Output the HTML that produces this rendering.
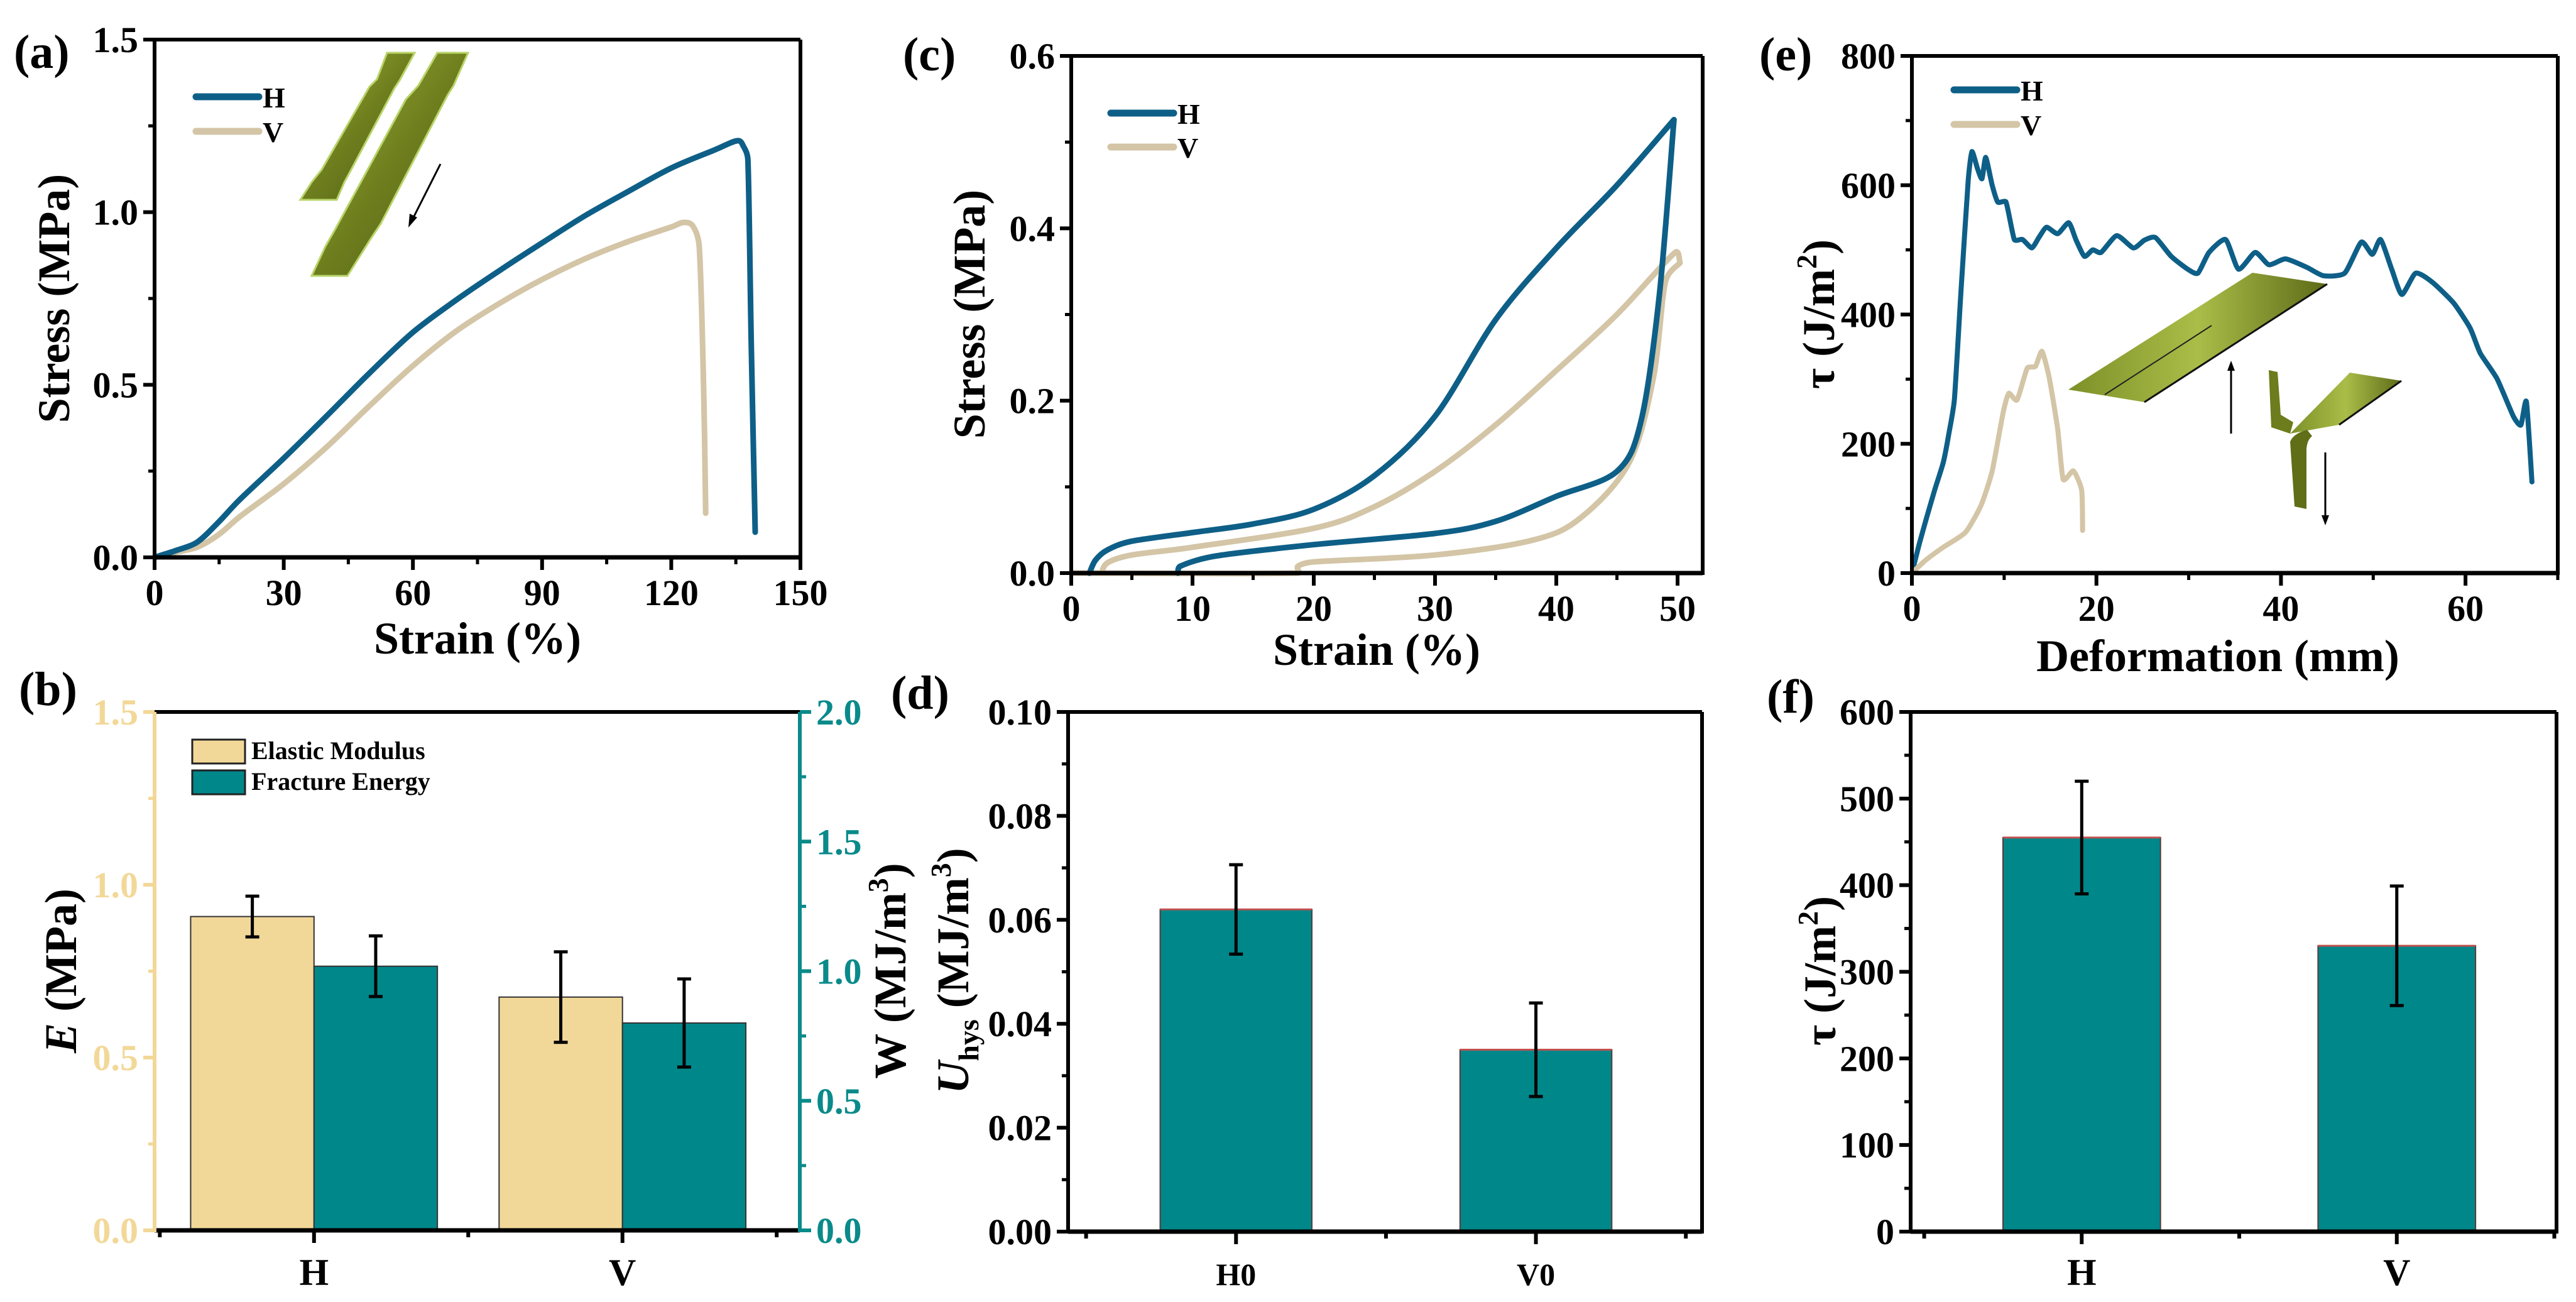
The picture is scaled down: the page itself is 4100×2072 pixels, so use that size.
<!DOCTYPE html>
<html><head><meta charset="utf-8">
<style>
html,body{margin:0;padding:0;background:#fff;}
svg{display:block;}
text{font-family:"Liberation Serif",serif;font-weight:bold;}
</style></head>
<body>
<svg id="fig" xmlns="http://www.w3.org/2000/svg" width="4100" height="2072" viewBox="0 0 4100 2072">
<defs>
<linearGradient id="grn" x1="0" y1="0" x2="1" y2="1">
<stop offset="0" stop-color="#9db23a"/><stop offset="0.5" stop-color="#6f7f1e"/><stop offset="1" stop-color="#4d5a12"/>
</linearGradient>
<linearGradient id="grn2" x1="0" y1="0" x2="1" y2="0">
<stop offset="0" stop-color="#7d9028"/><stop offset="0.5" stop-color="#aabd48"/><stop offset="1" stop-color="#5d6b18"/>
</linearGradient>
</defs>
</svg>
<script>
// ---------- DATA ----------
const aStrainH=[0,2,5,10,15,20,30,40,50,60,70,80,90,100,110,120,130,135.3,136.8,137.8,138.6,139.5];
const aStressH=[0,0.008,0.02,0.045,0.104,0.17,0.287,0.41,0.535,0.652,0.745,0.83,0.911,0.99,1.06,1.128,1.18,1.207,1.19,1.15,0.6,0.073];
const aStrainV=[0,2,5,10,15,20,30,40,50,60,70,80,90,100,110,120,122.7,125,126.5,127.5,128];
const aStressV=[0,0.006,0.015,0.03,0.067,0.12,0.213,0.32,0.44,0.555,0.655,0.735,0.805,0.865,0.915,0.957,0.97,0.96,0.9,0.5,0.128];

const cStrainHLoad=[1.5,2,3,5,10,15,20,25,30,35,40,45,49.7];
const cStressHLoad=[0,0.015,0.027,0.037,0.047,0.057,0.074,0.113,0.182,0.294,0.377,0.45,0.526];
const cStrainHUnload=[49.7,48.5,47,45,40,35,30,20,12,9,8.8];
const cStressHUnload=[0.526,0.323,0.177,0.118,0.089,0.06,0.046,0.033,0.02,0.008,0];
const cStrainVLoad=[2.5,3,5,10,20,25,30,35,40,45,49.8,50.2];
const cStressVLoad=[0,0.012,0.021,0.03,0.052,0.077,0.118,0.172,0.235,0.30,0.372,0.36];
const cStrainVUnload=[50.2,49,48,46,42,38,30,20,18.7,18.7,0];
const cStressVUnload=[0.36,0.338,0.226,0.128,0.064,0.038,0.021,0.013,0.008,0,0];

const eDefH=[0,0.8,1.6,2.5,3.4,4,4.6,5.3,6.1,6.5,7.1,7.6,8.0,8.7,9.3,10.2,11.1,12.0,13.0,13.8,14.6,15.8,17.0,17.8,18.7,19.6,20.5,22.2,24,25.2,26.4,28.1,29.9,31,32.2,34,35.4,37.2,38.7,40.5,42.8,44.6,46.9,48.7,49.9,50.8,52,53.1,54.6,56.4,58.7,60.5,61.6,63.4,65.2,66,66.6,67.2];
const eTauH=[0,45,86,130,171,215,268,431,607,652,626,610,643,600,574,574,516,516,503,520,535,525,542,515,490,500,496,522,503,515,519,490,470,464,496,516,470,496,477,486,473,460,464,512,493,516,470,431,464,450,418,379,340,301,242,229,265,141];
const eDefV=[0,1.5,3.4,5.8,7.5,8.7,9.9,10.5,11.4,12.5,13.4,14.1,14.9,15.8,16.4,17.5,18.4,18.5];
const eTauV=[0,20,40,63,105,158,249,278,268,317,320,343,301,223,145,158,128,66];

const bCategories=["H","V"];
const bElastic=[0.908,0.675];
const bElasticErr=[0.059,0.131];
const bFracture=[1.019,0.80];
const bFractureErr=[0.117,0.17];

const dCategories=["H0","V0"];
const dUhys=[0.062,0.035];
const dUhysErr=[0.0086,0.009];

const fCategories=["H","V"];
const fTau=[455,330];
const fTauErr=[65,69];

const aXTicks=[0,30,60,90,120,150], aYTicks=[0,0.5,1.0,1.5];
const cXTicks=[0,10,20,30,40,50], cYTicks=[0,0.2,0.4,0.6];
const eXTicks=[0,20,40,60], eYTicks=[0,200,400,600,800];
const bYTicksL=[0,0.5,1.0,1.5], bYTicksR=[0,0.5,1.0,1.5,2.0];
const dYTicks=[0,0.02,0.04,0.06,0.08,0.10];
const fYTicks=[0,100,200,300,400,500,600];

// ---------- HELPERS ----------
const NS="http://www.w3.org/2000/svg";
const svg=document.getElementById('fig');
function mk(tag,attrs,parent){const e=document.createElementNS(NS,tag);for(const k in attrs)e.setAttribute(k,attrs[k]);(parent||svg).appendChild(e);return e;}
function lin(d0,d1,r0,r1){return v=>r0+(v-d0)/(d1-d0)*(r1-r0);}
const BLUE="#0e5f87", TAN="#d3c5a6", TEAL="#00878a", YEL="#f2d898", TEALAX="#0a8a8a";

function frame(g,P,topColor,leftColor,rightColor){
  let e;
  e=mk('line',{x1:P.x0,y1:P.y1,x2:P.x1,y2:P.y1,stroke:'#000','stroke-width':7},g);
  
  
  e=mk('line',{x1:P.x0,y1:P.y0,x2:P.x1,y2:P.y0,stroke:topColor||'#000','stroke-width':6},g);
  
  
  e=mk('line',{x1:P.x0,y1:P.y0,x2:P.x0,y2:P.y1+3,stroke:leftColor||'#000','stroke-width':6},g);
  
  
  e=mk('line',{x1:P.x1,y1:P.y0,x2:P.x1,y2:P.y1+3,stroke:rightColor||'#000','stroke-width':6},g);
  
  
}
function yTicks(g,P,sy,ticks,fmt,color,side){
  const c=color||'#000';
  const xs= side==='right'?P.x1:P.x0, dir= side==='right'?1:-1;
  for(let i=0;i<ticks.length;i++){
    const v=ticks[i], y=sy(v);
    let t=mk('line',{x1:xs,y1:y,x2:xs+dir*18,y2:y,stroke:c,'stroke-width':6},g);
    
    
    if(i<ticks.length-1){
      const ym=sy((v+ticks[i+1])/2);
      t=mk('line',{x1:xs,y1:ym,x2:xs+dir*10,y2:ym,stroke:c,'stroke-width':5},g);
      
      
    }
    const lab=mk('text',{x:xs+dir*26,y:y+20,'font-size':58,'text-anchor':side==='right'?'start':'end',fill:c},g);
    lab.textContent=fmt(v);
    
    
  }
}
function xTicks(g,P,sx,ticks,fmt,xmaxMinor){
  for(let i=0;i<ticks.length;i++){
    const v=ticks[i], x=sx(v);
    let t=mk('line',{x1:x,y1:P.y1,x2:x,y2:P.y1+20,stroke:'#000','stroke-width':6},g);
    
    
    const step=(ticks[1]-ticks[0]);
    const m=v+step/2;
    if(m<=xmaxMinor){
      const xm=sx(m);
      t=mk('line',{x1:xm,y1:P.y1,x2:xm,y2:P.y1+11,stroke:'#000','stroke-width':5},g);
      
      
    }
    const lab=mk('text',{x:x,y:P.y1+76,'font-size':58,'text-anchor':'middle'},g);
    lab.textContent=fmt(v);
    
    
  }
}
// smooth catmull-rom path through data points (clamped tangents to avoid overshoot)
function poly(g,xs,ys,sx,sy,color,w,tension){
  const k=(tension===undefined?0.16:tension);
  const p=xs.map((x,i)=>[sx(x),sy(ys[i])]);
  let d='M'+p[0][0].toFixed(1)+','+p[0][1].toFixed(1);
  for(let i=0;i<p.length-1;i++){
    const p0=p[i-1]||p[i], p1=p[i], p2=p[i+1], p3=p[i+2]||p[i+1];
    const seg=Math.hypot(p2[0]-p1[0],p2[1]-p1[1]);
    function tan(a,b){const dx=b[0]-a[0],dy=b[1]-a[1];const L=Math.hypot(dx,dy)||1;const m=Math.min(L,seg*3);return [dx/L*m,dy/L*m];}
    const t1=tan(p0,p2), t2=tan(p1,p3);
    const c1=[p1[0]+t1[0]*k,p1[1]+t1[1]*k], c2=[p2[0]-t2[0]*k,p2[1]-t2[1]*k];
    d+=' C'+c1[0].toFixed(1)+','+c1[1].toFixed(1)+' '+c2[0].toFixed(1)+','+c2[1].toFixed(1)+' '+p2[0].toFixed(1)+','+p2[1].toFixed(1);
  }
  return mk('path',{d:d,fill:'none',stroke:color,'stroke-width':w||9,'stroke-linejoin':'round','stroke-linecap':'round'},g);
}
function label(txt,x,y,size,parent){const t=mk('text',{x:x,y:y,'font-size':size},parent);t.textContent=txt;return t;}
function legendLine(g,x,y,color,txt){
  let l=mk('line',{x1:x,y1:y,x2:x+100,y2:y,stroke:color,'stroke-width':11,'stroke-linecap':'round'},g);
  
  
  let t=mk('text',{x:x+106,y:y+17,'font-size':46},g);
  t.textContent=txt;
  
  
}
function yTitle(g,cx,cy,parts,color){
  const t=mk('text',{x:0,y:0,'font-size':72,'text-anchor':'middle',transform:`translate(${cx},${cy}) rotate(-90)`,fill:color||'#000'},g);
  for(const p of parts){
    const s=mk('tspan',{},t);
    if(p.it)s.setAttribute('font-style','italic');
    if(p.sup){s.setAttribute('font-size',46);s.setAttribute('dy',-28);}
    if(p.sub){s.setAttribute('font-size',46);s.setAttribute('dy',16);}
    if(p.back){s.setAttribute('dy',p.back);}
    s.textContent=p.t;
  }
  return t;
}

// ---------- PANEL A ----------
(function(){
  const g=mk('g',{});  
  const P={x0:246,x1:1274,y0:63,y1:887};
  const sx=lin(0,150,P.x0,P.x1), sy=lin(0,1.5,P.y1,P.y0);
  const ins=mk('g',{},g);  
  let p=mk('polygon',{points:'616,84 660,84 636,128 628,140 560,268 548,290 536,318 478,318 496,290 512,270 588,138 600,126',fill:'url(#grn)',stroke:'#b9d46a','stroke-width':3},ins);
   
  p=mk('polygon',{points:'696,84 745,84 722,136 712,152 606,356 590,380 553,439 496,439 518,392 534,364 646,158 666,136',fill:'url(#grn)',stroke:'#b9d46a','stroke-width':3},ins);
   
  let a=mk('line',{x1:701,y1:261,x2:653,y2:356,stroke:'#000','stroke-width':3},ins);  
  a=mk('polygon',{points:'650,362 652,340 664,346',fill:'#000'},ins);  
  let l=poly(g,aStrainV,aStressV,sx,sy,TAN);  
  l=poly(g,aStrainH,aStressH,sx,sy,BLUE);  
  frame(g,P);
  yTicks(g,P,sy,aYTicks,v=>v.toFixed(1));
  xTicks(g,P,sx,aXTicks,v=>String(v),149);
  legendLine(g,312,154,BLUE,'H'); legendLine(g,312,209,TAN,'V');
  let t=mk('text',{x:760,y:1040,'font-size':72,'text-anchor':'middle'},g); t.textContent='Strain (%)';  
  t=yTitle(g,110,475,[{t:'Stress (MPa)'}]);  
  t=label('(a)',22,108,76,g);  
})();

// ---------- PANEL C ----------
(function(){
  const g=mk('g',{});  
  const P={x0:1705,x1:2710,y0:89,y1:912};
  const sx=lin(0,52.07,P.x0,P.x1), sy=lin(0,0.6,P.y1,P.y0);
  let l=poly(g,cStrainVLoad,cStressVLoad,sx,sy,TAN);  
  l=poly(g,cStrainVUnload,cStressVUnload,sx,sy,TAN);  
  l=poly(g,cStrainHLoad,cStressHLoad,sx,sy,BLUE);  
  l=poly(g,cStrainHUnload,cStressHUnload,sx,sy,BLUE);  
  frame(g,P);
  yTicks(g,P,sy,cYTicks,v=>v.toFixed(1));
  xTicks(g,P,sx,cXTicks,v=>String(v),52);
  legendLine(g,1768,180,BLUE,'H'); legendLine(g,1768,234,TAN,'V');
  let t=mk('text',{x:2191,y:1058,'font-size':72,'text-anchor':'middle'},g); t.textContent='Strain (%)';  
  t=yTitle(g,1567,500,[{t:'Stress (MPa)'}]);  
  t=label('(c)',1437,112,76,g);  
})();

// ---------- PANEL E ----------
(function(){
  const g=mk('g',{});  
  const P={x0:3043,x1:4071,y0:89,y1:912};
  const sx=lin(0,70,P.x0,P.x1), sy=lin(0,800,P.y1,P.y0);
  let l=poly(g,eDefH,eTauH,sx,sy,BLUE,8,0.1);  
  l=poly(g,eDefV,eTauV,sx,sy,TAN,8,0.1);  
  const ins=mk('g',{},g);  
  let p=mk('polygon',{points:'3292,620 3585,434 3704,452 3413,640',fill:'url(#grn2)'},ins);  
  p=mk('line',{x1:3413,y1:640,x2:3704,y2:452,stroke:'#111','stroke-width':3},ins);  
  p=mk('line',{x1:3350,y1:628,x2:3520,y2:518,stroke:'#222','stroke-width':2},ins);  
  p=mk('line',{x1:3551,y1:690,x2:3551,y2:584,stroke:'#000','stroke-width':3},ins);  
  p=mk('polygon',{points:'3551,574 3545,590 3557,590',fill:'#000'},ins);  
  p=mk('polygon',{points:'3645,690 3740,593 3822,606 3723,676',fill:'url(#grn2)'},ins);  
  p=mk('line',{x1:3723,y1:676,x2:3822,y2:606,stroke:'#111','stroke-width':3},ins);  
  p=mk('path',{d:'M3611,589 L3625,592 L3630,660 L3650,672 L3645,690 L3615,680 Z',fill:'#6d7c1c'},ins);  
  p=mk('path',{d:'M3645,703 Q3650,690 3672,684 L3680,694 Q3672,700 3671,715 L3671,810 L3652,806 Z',fill:'#5f6e17'},ins);  
  p=mk('line',{x1:3701,y1:720,x2:3701,y2:826,stroke:'#000','stroke-width':3},ins);  
  p=mk('polygon',{points:'3701,836 3695,820 3707,820',fill:'#000'},ins);  
  frame(g,P);
  yTicks(g,P,sy,eYTicks,v=>String(v));
  xTicks(g,P,sx,eXTicks,v=>String(v),70);
  legendLine(g,3110,143,BLUE,'H'); legendLine(g,3110,198,TAN,'V');
  let t=mk('text',{x:3530,y:1068,'font-size':72,'text-anchor':'middle'},g); t.textContent='Deformation (mm)';  
  t=yTitle(g,2919,500,[{t:'τ (J/m'},{t:'2',sup:true},{t:')',back:28}]);  
  t=label('(e)',2800,112,76,g);  
})();

// ---------- BAR HELPERS ----------
function errBar(g,x,yTop,yBot){
  let e=mk('line',{x1:x,y1:yTop,x2:x,y2:yBot,stroke:'#000','stroke-width':5},g);
   
  e=mk('line',{x1:x-11,y1:yTop,x2:x+11,y2:yTop,stroke:'#000','stroke-width':5},g);
   
  e=mk('line',{x1:x-11,y1:yBot,x2:x+11,y2:yBot,stroke:'#000','stroke-width':5},g);
   
}
function catAxis(g,P,sx,cats,fs){
  for(let k=0.5;k<=2.5;k+=0.5){
    const major=Number.isInteger(k);
    const t=mk('line',{x1:sx(k),y1:P.y1,x2:sx(k),y2:P.y1+(major?20:11),stroke:'#000','stroke-width':6},g);
     
  }
  cats.forEach((c,i)=>{
    const t=mk('text',{x:sx(i+1),y:2045,'font-size':fs||60,'text-anchor':'middle'},g);
    t.textContent=c;
     
  });
}

// ---------- PANEL B ----------
(function(){
  const g=mk('g',{});  
  const P={x0:246,x1:1273,y0:1133,y1:1958};
  const sx=lin(0.483,2.575,P.x0,P.x1), syL=lin(0,1.5,P.y1,P.y0), syR=lin(0,2,P.y1,P.y0);
  const bw=0.4;
  bCategories.forEach((c,i)=>{
    const xa=sx(i+1-bw), xb=sx(i+1), xc=sx(i+1+bw);
    let r=mk('rect',{x:xa,y:syL(bElastic[i]),width:xb-xa,height:P.y1-syL(bElastic[i]),fill:YEL,stroke:'#333','stroke-width':2},g);
     
    r=mk('rect',{x:xb,y:syR(bFracture[i]),width:xc-xb,height:P.y1-syR(bFracture[i]),fill:TEAL,stroke:'#333','stroke-width':2},g);
     
    errBar(g,(xa+xb)/2,syL(bElastic[i]+bElasticErr[i]),syL(bElastic[i]-bElasticErr[i]));
    errBar(g,(xb+xc)/2,syR(bFracture[i]+bFractureErr[i]),syR(bFracture[i]-bFractureErr[i]));
  });
  frame(g,P,'#000',YEL,TEALAX);
  yTicks(g,P,syL,bYTicksL,v=>v.toFixed(1),YEL,'left');
  yTicks(g,P,syR,bYTicksR,v=>v.toFixed(1),TEALAX,'right');
  catAxis(g,P,sx,bCategories);
  let r=mk('rect',{x:306,y:1177,width:84,height:38,fill:YEL,stroke:'#222','stroke-width':3},g);  
  r=mk('rect',{x:306,y:1226,width:84,height:38,fill:TEAL,stroke:'#222','stroke-width':3},g);  
  let t=label('Elastic Modulus',400,1208,40,g);  
  t=label('Fracture Energy',400,1257,40,g);  
  t=yTitle(g,121,1545,[{t:'E',it:true},{t:' (MPa)'}]);  
  t=yTitle(g,1441,1545,[{t:'W (MJ/m'},{t:'3',sup:true},{t:')',back:28}]);  
  t=label('(b)',30,1122,76,g);  
})();

// ---------- PANEL D ----------
(function(){
  const g=mk('g',{});  
  const P={x0:1700,x1:2709,y0:1133,y1:1960};
  const sx=lin(0.44,2.554,P.x0,P.x1), sy=lin(0,0.10,P.y1,P.y0);
  const bw=0.253;
  dCategories.forEach((c,i)=>{
    const xa=sx(i+1-bw), xb=sx(i+1+bw);
    let r=mk('rect',{x:xa,y:sy(dUhys[i]),width:xb-xa,height:P.y1-sy(dUhys[i]),fill:TEAL,stroke:'#5a3a3a','stroke-width':2},g);
     
    r=mk('line',{x1:xa,y1:sy(dUhys[i]),x2:xb,y2:sy(dUhys[i]),stroke:'#c0504d','stroke-width':3},g);
     
    errBar(g,sx(i+1),sy(dUhys[i]+dUhysErr[i]),sy(dUhys[i]-dUhysErr[i]));
  });
  frame(g,P);
  yTicks(g,P,sy,dYTicks,v=>v.toFixed(2));
  catAxis(g,P,sx,dCategories,50);
  let t=yTitle(g,1541,1545,[{t:'U',it:true},{t:'hys',sub:true},{t:' (MJ/m',back:-16},{t:'3',sup:true},{t:')',back:28}]);  
  t=label('(d)',1418,1128,76,g);  
})();

// ---------- PANEL F ----------
(function(){
  const g=mk('g',{});  
  const P={x0:3041,x1:4069,y0:1133,y1:1960};
  const sx=lin(0.457,2.507,P.x0,P.x1), sy=lin(0,600,P.y1,P.y0);
  const bw=0.25;
  fCategories.forEach((c,i)=>{
    const xa=sx(i+1-bw), xb=sx(i+1+bw);
    let r=mk('rect',{x:xa,y:sy(fTau[i]),width:xb-xa,height:P.y1-sy(fTau[i]),fill:TEAL,stroke:'#5a3a3a','stroke-width':2},g);
     
    r=mk('line',{x1:xa,y1:sy(fTau[i]),x2:xb,y2:sy(fTau[i]),stroke:'#c0504d','stroke-width':3},g);
     
    errBar(g,sx(i+1),sy(fTau[i]+fTauErr[i]),sy(fTau[i]-fTauErr[i]));
  });
  frame(g,P);
  yTicks(g,P,sy,fYTicks,v=>String(v));
  catAxis(g,P,sx,fCategories);
  let t=yTitle(g,2921,1545,[{t:'τ (J/m'},{t:'2',sup:true},{t:')',back:28}]);  
  t=label('(f)',2812,1134,76,g);  
})();
</script>
</body></html>
